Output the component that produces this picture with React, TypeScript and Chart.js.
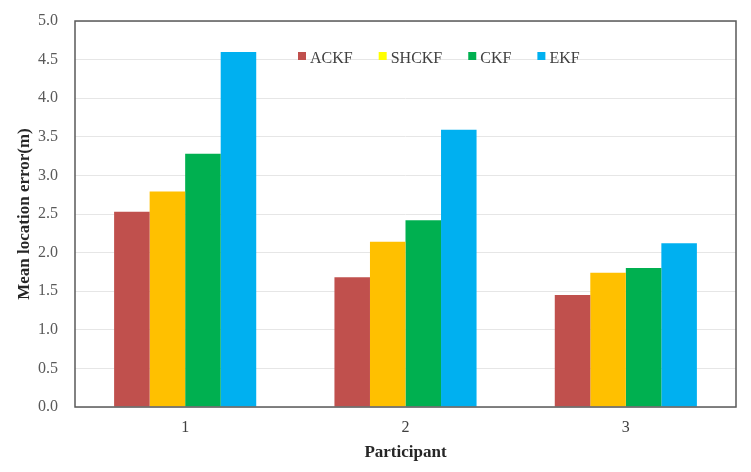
import React, { useEffect, useRef } from "react";
import { Chart, registerables } from "chart.js";

Chart.register(...registerables);

const categories = ["1", "2", "3"];
const seriesNames = ["ACKF", "SHCKF", "CKF", "EKF"];
const ackf = [2.53, 1.68, 1.45];
const shckf = [2.79, 2.14, 1.74];
const ckf = [3.28, 2.42, 1.8];
const ekf = [4.6, 3.59, 2.12];
const yTicks = [0, 0.5, 1, 1.5, 2, 2.5, 3, 3.5, 4, 4.5, 5];

const barColors = ["#C0504D", "#FFC000", "#00B050", "#00B0F0"];
const legendColors = ["#C0504D", "#FFFF00", "#00B050", "#00B0F0"];
const SERIF = '"Liberation Serif", "Times New Roman", serif';

const framePlugin = {
  id: "frame",
  afterDatasetsDraw(chart: any) {
    const { ctx, chartArea } = chart;
    ctx.save();
    ctx.font = `16px ${SERIF}`;
    ctx.textBaseline = "alphabetic";
    ctx.textAlign = "left";
    let x = 298;
    const boxTop = 52;
    chart.data.datasets.forEach((ds: any, i: number) => {
      ctx.fillStyle = legendColors[i];
      ctx.fillRect(x, boxTop, 8, 8);
      ctx.fillStyle = "#404040";
      ctx.fillText(ds.label, x + 12, 63);
      x += 12 + ctx.measureText(ds.label).width + 26;
    });
    ctx.strokeStyle = "#595959";
    ctx.lineWidth = 1.5;
    ctx.strokeRect(chartArea.left, chartArea.top, chartArea.right - chartArea.left, chartArea.bottom - chartArea.top);
    ctx.restore();
  },
};

export default function App() {
  const ref = useRef<HTMLCanvasElement>(null);
  useEffect(() => {
    if (!ref.current) return;
    const values = [ackf, shckf, ckf, ekf];
    const chart = new Chart(ref.current, {
      type: "bar",
      data: {
        labels: categories,
        datasets: seriesNames.map((name, i) => ({
          label: name,
          data: values[i],
          backgroundColor: barColors[i],
          borderWidth: 0,
          barPercentage: 1,
          categoryPercentage: 0.645,
        })),
      },
      options: {
        animation: false,
        responsive: false,
        maintainAspectRatio: false,
        layout: { padding: { top: 21, right: 15, left: 0, bottom: 0 } },
        plugins: { legend: { display: false }, tooltip: { enabled: false } },
        scales: {
          x: {
            grid: { display: false, drawTicks: false },
            border: { display: false },
            ticks: { color: "#404040", font: { family: SERIF, size: 16 }, padding: 11 },
            title: {
              display: true,
              text: "Participant",
              color: "#262626",
              font: { family: SERIF, size: 17, weight: "bold" },
              padding: { top: 0, bottom: 9 },
            },
            afterFit(scale: any) {
              scale.height = 65;
              scale.paddingLeft = 0;
              scale.paddingRight = 0;
            },
          },
          y: {
            min: 0,
            max: 5,
            afterBuildTicks(scale: any) {
              scale.ticks = yTicks.map((v) => ({ value: v }));
            },
            grid: { color: "#E6E6E6", lineWidth: 1, drawTicks: false },
            border: { display: false },
            ticks: {
              color: "#595959",
              font: { family: SERIF, size: 16 },
              padding: 17,
              callback: (v: any) => Number(v).toFixed(1),
            },
            title: {
              display: true,
              text: "Mean location error(m)",
              color: "#262626",
              font: { family: SERIF, size: 17, weight: "bold" },
              padding: { top: 14, bottom: 0 },
            },
            afterFit(scale: any) {
              scale.width = 75;
              scale.paddingTop = 0;
              scale.paddingBottom = 0;
            },
          },
        },
      },
      plugins: [framePlugin],
    } as any);
    return () => chart.destroy();
  }, []);
  return (
    <div style={{ position: "fixed", left: 0, top: 0, width: 751, height: 472, background: "#fff" }}>
      <canvas ref={ref} width={751} height={472} style={{ display: "block" }} />
    </div>
  );
}
